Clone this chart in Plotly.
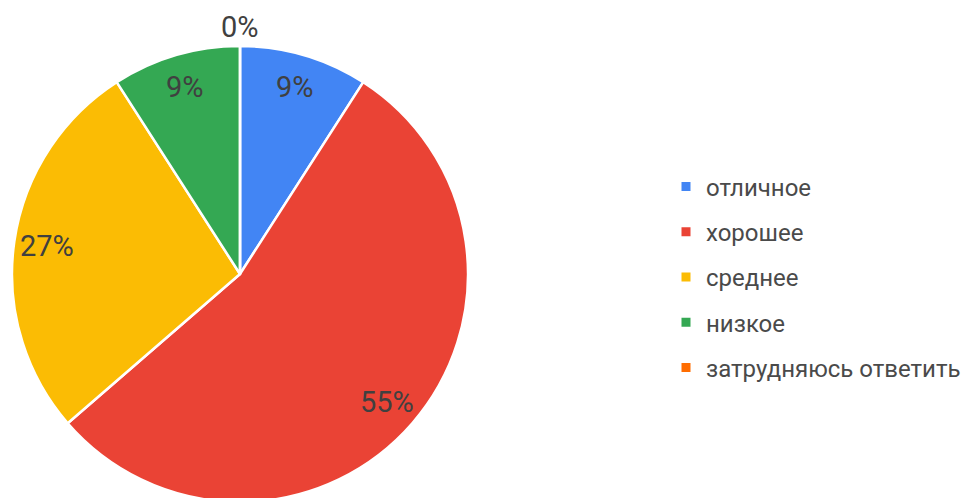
import math
import plotly.graph_objects as go

categories = ["отличное", "хорошее", "среднее", "низкое", "затрудняюсь ответить"]
counts = [1, 6, 3, 1, 0]
colors = ["#4285F4", "#EA4335", "#FBBC04", "#34A853", "#FF6D01"]

W, H = 971, 498
OFF = 8  # page body margin
# pie box in page pixels
px0, px1 = 12 - OFF, 468 - OFF
py0, py1 = 46 - OFF, 502 - OFF
dom_x = [px0 / W, px1 / W]
dom_y = [1 - py1 / H, 1 - py0 / H]
R = (px1 - px0) / 2
cx = (px0 + px1) / 2
cy = (py0 + py1) / 2

fig = go.Figure()
fig.add_trace(go.Pie(
    labels=categories, values=counts, sort=False, direction="clockwise",
    rotation=0, marker=dict(colors=colors, line=dict(color="white", width=2.5)),
    textinfo="none", hoverinfo="label+percent", showlegend=False,
    domain=dict(x=dom_x, y=dom_y),
))

total = sum(counts)
cum = 0
annotations = []
for cat, v in zip(categories, counts):
    mid = (cum + v / 2) / total * 2 * math.pi
    cum += v
    pct = round(100 * v / total)
    rr = R * 0.855 if v > 0 else R * 1.085
    x = cx + rr * math.sin(mid)
    y = cy - rr * math.cos(mid)
    annotations.append(dict(
        x=x / W, y=1 - y / H, xref="paper", yref="paper", text=f"{pct}%",
        showarrow=False, xanchor="center", yanchor="middle",
        font=dict(family="Roboto", size=29, color="#404040"),
    ))

for cat, col in zip(categories, colors):
    fig.add_trace(go.Scatter(
        x=[None], y=[None], mode="markers", name=cat, legendgroup=cat,
        marker=dict(symbol="square", size=9, color=col),
    ))

fig.update_layout(
    width=W, height=H, margin=dict(l=0, r=0, t=0, b=0),
    paper_bgcolor="white", plot_bgcolor="white",
    xaxis=dict(visible=False), yaxis=dict(visible=False),
    annotations=annotations,
    legend=dict(
        x=(666 - OFF) / W, y=1 - (277 - OFF) / H, xanchor="left", yanchor="middle",
        font=dict(family="Roboto", size=24, color="#4a4a4a"),
        tracegroupgap=11, bgcolor="rgba(0,0,0,0)",
    ),
)
fig.write_html("out.html")
